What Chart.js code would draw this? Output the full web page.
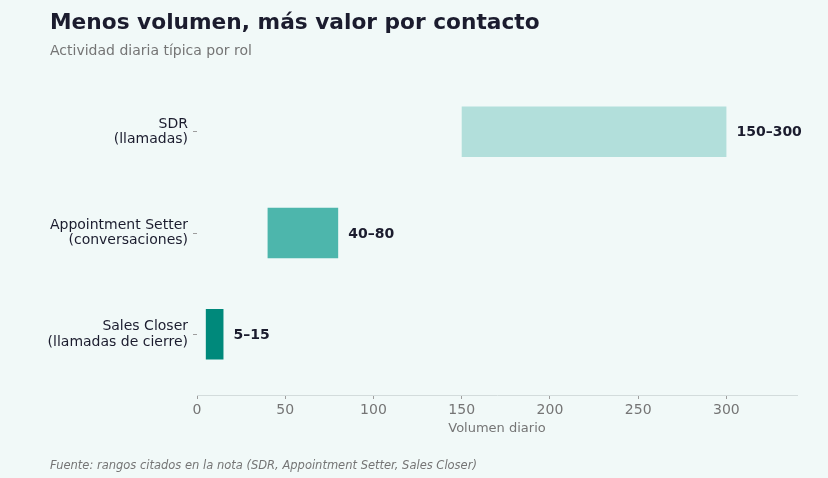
<!DOCTYPE html>
<html>
<head>
<meta charset="utf-8">
<script src="https://cdn.jsdelivr.net/npm/chart.js@4.4.1/dist/chart.umd.min.js"></script>
<style>
  html, body { margin: 0; padding: 0; background: #f1f9f8; }
  #wrap { width: 828px; height: 478px; position: relative; }
</style>
</head>
<body>
<div id="wrap"><canvas id="c" width="828" height="478"></canvas></div>
<script>
// ---- data ----
const categories = [["SDR", "(llamadas)"], ["Appointment Setter", "(conversaciones)"], ["Sales Closer", "(llamadas de cierre)"]];
const rangeLow = [150, 40, 5];
const rangeHigh = [300, 80, 15];
const barColors = ["#b2dfdb", "#4db6ac", "#00897b"];
const xTicks = [0, 50, 100, 150, 200, 250, 300];

const titleText = "Menos volumen, más valor por contacto";
const subtitleText = "Actividad diaria típica por rol";
const footerText = "Fuente: rangos citados en la nota (SDR, Appointment Setter, Sales Closer)";
const xTitle = "Volumen diario";

const FONT = "'DejaVu Sans', sans-serif";
const BG = "#f1f9f8";

const points = categories.map((c, i) => ({ y: i, x: [rangeLow[i], rangeHigh[i]] }));

const bgPlugin = {
  id: 'bg',
  beforeDraw(chart) {
    const ctx = chart.ctx;
    ctx.save();
    ctx.fillStyle = BG;
    ctx.fillRect(0, 0, chart.width, chart.height);
    ctx.restore();
  }
};

const textPlugin = {
  id: 'texts',
  afterDraw(chart) {
    const ctx = chart.ctx;
    ctx.save();
    ctx.textAlign = 'left';
    ctx.textBaseline = 'alphabetic';
    ctx.fillStyle = '#1b1c2e';
    ctx.font = "bold 21.7px " + FONT;
    ctx.fillText(titleText, 50, 29);
    ctx.fillStyle = '#757575';
    ctx.font = "14px " + FONT;
    ctx.fillText(subtitleText, 50, 55);
    ctx.fillStyle = '#757575';
    ctx.font = "italic 11.5px " + FONT;
    ctx.fillText(footerText, 50, 469);
    ctx.restore();
  }
};

const labelPlugin = {
  id: 'barLabels',
  afterDatasetsDraw(chart) {
    const ctx = chart.ctx;
    const meta = chart.getDatasetMeta(0);
    ctx.save();
    ctx.fillStyle = '#1b1c2e';
    ctx.font = "bold 14px " + FONT;
    ctx.textAlign = 'left';
    ctx.textBaseline = 'middle';
    meta.data.forEach((bar, i) => {
      ctx.fillText(rangeLow[i] + "–" + rangeHigh[i], bar.x + 10, bar.y + 1);
    });
    ctx.restore();
  }
};

new Chart(document.getElementById('c'), {
  type: 'bar',
  data: {
    datasets: [{
      data: points,
      backgroundColor: barColors,
      borderWidth: 0,
      categoryPercentage: 1.0,
      barPercentage: 0.5
    }]
  },
  options: {
    indexAxis: 'y',
    responsive: false,
    animation: false,
    devicePixelRatio: 1,
    layout: { padding: { top: 71, right: 31, left: 0, bottom: 0 } },
    plugins: { legend: { display: false }, tooltip: { enabled: false }, title: { display: false } },
    scales: {
      x: {
        type: 'linear',
        min: 0,
        max: 340,
        offset: false,
        afterFit(scale) { scale.height = 83; },
        afterBuildTicks(scale) { scale.ticks = xTicks.map(v => ({ value: v })); },
        border: { display: true, color: '#d3dcdc', width: 1 },
        grid: { display: true, offset: false, drawOnChartArea: false, drawTicks: true, tickLength: 4, color: '#9e9e9e' },
        ticks: { color: '#757575', font: { family: FONT, size: 14 }, padding: 3 },
        title: { display: true, text: xTitle, color: '#757575', font: { family: FONT, size: 13 }, padding: { top: 0, bottom: 42 } }
      },
      y: {
        type: 'linear',
        reverse: true,
        min: -0.6,
        max: 2.6,
        offset: false,
        afterFit(scale) { scale.width = 197; },
        afterBuildTicks(scale) { scale.ticks = categories.map((c, i) => ({ value: i })); },
        border: { display: false },
        grid: { display: true, offset: false, drawOnChartArea: false, drawTicks: true, tickLength: 4, color: '#9e9e9e' },
        ticks: {
          color: '#1b1c2e',
          font: { family: FONT, size: 14, lineHeight: 1.12 },
          padding: 5,
          callback: (v) => categories[v]
        }
      }
    }
  },
  plugins: [bgPlugin, labelPlugin, textPlugin]
});
</script>
</body>
</html>
